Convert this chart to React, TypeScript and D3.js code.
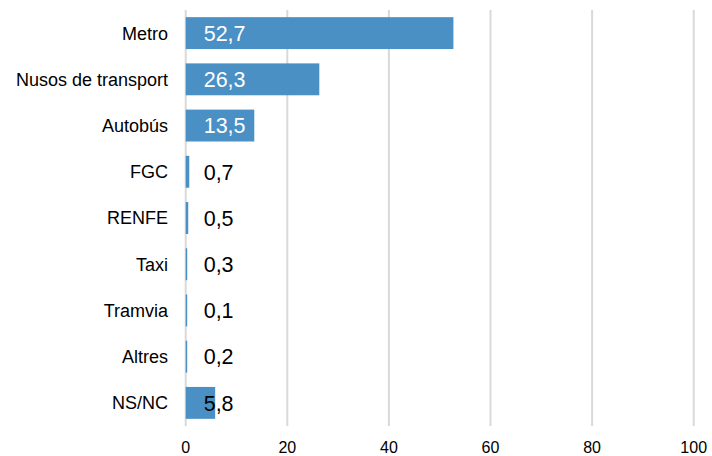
import { useRef, useEffect } from 'react';
import * as d3 from 'd3';

const categories = ['Metro', 'Nusos de transport', 'Autobús', 'FGC', 'RENFE', 'Taxi', 'Tramvia', 'Altres', 'NS/NC'];
const values = [52.7, 26.3, 13.5, 0.7, 0.5, 0.3, 0.1, 0.2, 5.8];
const xTicks = [0, 20, 40, 60, 80, 100];

export default function App() {
  const ref = useRef<SVGSVGElement>(null);

  useEffect(() => {
    const svg = d3.select(ref.current);
    svg.selectAll('*').remove();

    const width = 712;
    const height = 456;
    const left = 185.7;
    const right = 693.7;
    const top = 10;
    const bottom = 426;
    const font = "'Liberation Sans', Arial, sans-serif";

    const x = d3.scaleLinear().domain([0, 100]).range([left, right]);
    const y = d3.scaleBand().domain(categories).range([top, bottom]).paddingInner(0.31).paddingOuter(0.155);

    // gridlines
    svg.append('g')
      .selectAll('line')
      .data(xTicks)
      .join('line')
      .attr('x1', d => x(d))
      .attr('x2', d => x(d))
      .attr('y1', top)
      .attr('y2', bottom)
      .attr('stroke', '#d9d9d9')
      .attr('stroke-width', 2);

    // bars
    svg.append('g')
      .selectAll('rect')
      .data(values)
      .join('rect')
      .attr('x', x(0))
      .attr('y', (d, i) => y(categories[i])!)
      .attr('width', d => Math.max(x(d) - x(0), 1.5))
      .attr('height', y.bandwidth())
      .attr('fill', '#4a90c4');

    // value labels
    svg.append('g')
      .selectAll('text')
      .data(values)
      .join('text')
      .attr('x', x(0) + 18)
      .attr('y', (d, i) => y(categories[i])! + y.bandwidth() / 2)
      .attr('dy', '0.36em')
      .attr('font-family', font)
      .attr('font-size', 21.5)
      .attr('fill', d => (d > 10 ? '#ffffff' : '#000000'))
      .text(d => d.toFixed(1).replace('.', ','));

    // category labels
    svg.append('g')
      .selectAll('text')
      .data(categories)
      .join('text')
      .attr('x', 168)
      .attr('y', d => y(d)! + y.bandwidth() / 2)
      .attr('dy', '0.36em')
      .attr('text-anchor', 'end')
      .attr('font-family', font)
      .attr('font-size', 18)
      .attr('fill', '#000')
      .text(d => d);

    // x tick labels
    svg.append('g')
      .selectAll('text')
      .data(xTicks)
      .join('text')
      .attr('x', d => x(d))
      .attr('y', 447)
      .attr('dy', '0.36em')
      .attr('text-anchor', 'middle')
      .attr('font-family', font)
      .attr('font-size', 16)
      .attr('fill', '#000')
      .text(d => d);

    svg.attr('width', width).attr('height', height);
  }, []);

  return (
    <svg ref={ref} width={712} height={456} style={{ position: 'absolute', left: 0, top: 0, background: '#fff' }} />
  );
}
